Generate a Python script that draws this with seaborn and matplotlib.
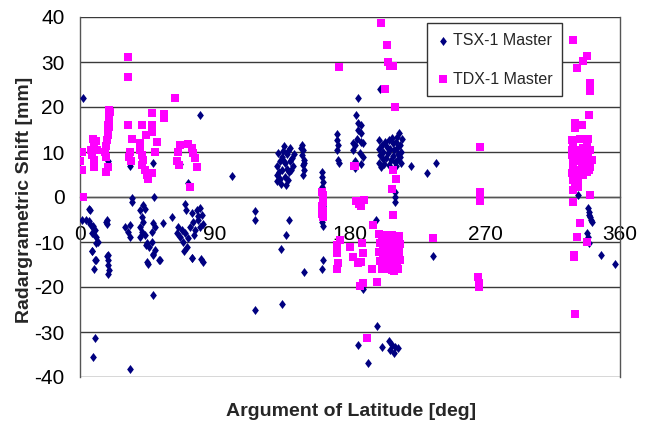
import matplotlib
matplotlib.use("Agg")
import matplotlib.pyplot as plt
import seaborn as sns
import pandas as pd

# ---------------- data ----------------
series_names = ["TSX-1 Master", "TDX-1 Master"]
x_ticks = [0, 90, 180, 270, 360]
y_ticks = [-40, -30, -20, -10, 0, 10, 20, 30, 40]

tsx_x = [
    2.2, 18.9, 6.0, 6.7, 1.0, 4.0, 5.8, 6.5, 8.8, 8.9, 10.0, 8.9, 7.8, 10.4, 10.9, 12.2, 7.8, 8.2, 9.8, 10.4, 9.6,
    17.8, 17.8, 17.6, 18.4, 18.2, 18.9, 18.4, 19.3, 18.4, 10.0, 8.4,
    33.3, 34.9, 34.9, 30.0, 32.2, 33.3, 33.0, 40.0, 41.1, 42.2, 40.0, 41.1, 40.0, 42.2, 43.3, 43.3, 44.4, 44.0,
    46.0, 48.2, 50.0, 48.9, 44.4, 45.6, 53.3, 48.9, 52.9, 48.4, 33.3, 48.9, 49.3, 48.5, 50.0, 48.0,
    55.6, 61.6, 64.4, 66.7, 72.2, 70.0, 80.0, 70.9, 74.4, 77.8, 80.0, 81.1, 78.9, 75.6, 73.3, 76.7, 80.0, 82.2,
    65.5, 67.8, 70.0, 66.7, 68.9, 72.2, 71.1, 69.3, 74.4, 82.2, 80.9, 74.8, 78.5, 76.0,
    101.1, 116.7, 116.7, 116.7, 133.8, 134.4, 137.3, 139.6, 149.3,
    136.2, 140.0, 132.2, 134.4, 137.8, 141.1, 133.3, 136.7, 140.0, 131.1, 134.4, 137.8, 142.2, 131.1, 133.3,
    136.7, 133.9, 137.3, 139.0, 135.5, 138.5, 132.5, 140.5, 142.8, 135.0, 138.9, 131.5,
    148.2, 148.5, 148.0, 149.0, 148.5, 149.2, 148.8, 147.5, 149.5,
    161.6, 161.3, 161.8, 161.6, 161.4, 161.9, 161.6, 161.7, 161.5, 161.8, 161.6, 162.0, 161.8, 161.6,
    171.2, 171.4, 171.9, 171.3, 172.2, 172.6,
    183.9, 185.5, 187.1, 185.5, 187.1, 184.4, 187.1, 188.9, 183.3, 182.2, 186.7, 188.4, 183.3, 187.1, 183.3, 182.2,
    199.1, 201.3, 199.6, 202.2, 200.0, 201.8, 199.3, 200.7, 204.4, 205.5, 204.0, 206.7, 207.3, 206.0, 208.9,
    209.4, 208.4, 209.8, 210.7, 211.3, 211.8, 212.0, 210.5, 213.3, 213.8, 213.1, 214.4, 212.9, 203.3, 205.8,
    207.9, 202.8, 211.1, 214.0,
    185.6, 200.0, 220.4, 231.1, 237.3, 210.0, 210.0, 210.0, 197.3, 235.1, 188.4, 198.2, 185.6, 201.1, 206.0,
    208.0, 210.0, 206.5, 209.0, 212.0, 192.2,
    332.2, 339.6, 340.0, 340.4, 341.0, 339.0, 338.2, 338.5, 339.0, 347.1, 356.7, 338.9,
]
tsx_y = [
    21.9, 7.9, -2.7, -2.9, -5.1, -5.1, -5.3, -5.9, -6.4, -6.9, -7.3, -8.0, -8.1, -8.8, -10.2, -10.1, -12.1, -11.9, -13.9, -14.1, -15.9,
    -5.0, -5.9, -5.6, -12.9, -13.2, -14.0, -15.1, -16.2, -17.0, -31.3, -35.5,
    6.9, -0.3, -1.0, -6.7, -7.7, -8.8, -6.2, -2.9, -4.4, -5.5, -6.6, -7.7, -8.8, -1.8, -2.7, -8.4, -10.3, -10.7,
    -11.0, -9.9, -11.8, -12.9, -14.4, -14.8, -13.9, -12.7, -13.9, -21.8, -38.3, 7.6, 0.1, -5.7, -6.7, -7.8,
    -5.7, -4.4, -7.9, 7.3, 3.2, -1.6, 18.2, -2.9, -3.6, -2.9, -2.5, -4.0, -5.1, -5.5, -6.6, -7.3, -6.6, -5.9,
    -6.6, -7.3, -8.1, -8.8, -9.9, -9.2, -11.1, -11.9, -13.6, -14.4, -13.8, -13.6, -4.3, -8.5,
    4.7, -3.0, -5.1, -25.1, -11.6, -23.8, -8.4, -5.0, -16.6,
    11.3, 11.0, 9.7, 9.0, 9.5, 8.7, 7.9, 7.5, 7.9, 6.8, 6.0, 6.3, 6.8, 4.9, 4.1,
    4.5, 3.0, 2.6, 5.5, 8.3, 10.2, 5.5, 6.1, 9.6, 10.3, 3.8, 3.5,
    11.6, 10.4, 9.3, 8.2, 7.1, 6.0, 4.9, 10.9, 7.6,
    5.6, 4.5, 3.4, 2.3, 1.2, 0.1, -1.0, -2.1, -3.3, -4.4, -5.5, -6.4, -13.9, -16.1,
    14.1, 12.7, 11.6, 10.4, 8.2, 7.5,
    18.2, 16.4, 16.0, 14.9, 14.3, 13.0, 12.3, 11.9, 11.6, 10.4, 9.7, 9.0, 7.9, 7.3, 6.4, 12.1,
    12.6, 11.6, 10.6, 10.0, 9.3, 8.5, 7.6, 6.7, 11.2, 9.8, 8.6, 10.6, 8.2, 7.2, 11.9,
    10.4, 9.1, 7.8, 12.3, 10.9, 9.6, 8.4, 7.0, 11.5, 10.0, 8.8, 12.8, 14.3, 12.3, 12.7,
    13.1, 7.3, 13.3, 7.6,
    22.1, 24.0, 6.9, 5.4, 7.5, 1.2, 0.1, -1.0, -5.1, -13.1, -20.5, -28.7, -32.9, -33.3, -32.1,
    -32.9, -33.3, -33.9, -34.6, -33.6, -36.8,
    0.4, -3.3, -4.4, -5.1, -5.5, -3.9, -8.1, -8.8, -10.3, -12.9, -14.9, -2.5,
]

tdx_x = [
    0.0, 1.1, 1.1, 2.2, 7.3, 7.8, 8.9, 9.1, 9.6, 9.6, 9.6, 10.5, 11.0, 17.0, 16.7, 17.1, 18.4, 17.1,
    19.5, 19.5, 19.1, 18.7, 18.4, 18.4, 18.0, 19.0, 20.0,
    32.2, 32.2, 32.2, 34.4, 33.0, 32.4, 34.0, 41.0, 47.8, 47.8, 47.8, 43.8, 40.0, 40.0, 41.1, 42.2, 41.1,
    43.3, 44.4, 45.6, 48.2, 50.0, 51.0, 56.2, 56.2,
    63.3, 66.7, 72.2, 74.4, 75.6, 76.7, 77.8, 65.5, 64.4, 66.2, 73.3,
    161.5, 161.8, 162.0, 161.5, 162.2, 161.6, 162.0, 171.0, 171.0, 172.0, 171.0, 172.9, 173.3,
    200.4, 204.9, 205.0, 206.5, 208.5, 203.3, 210.0, 208.9, 210.6, 207.8, 208.9, 182.6, 183.3, 184.0, 189.0,
    187.5, 186.0, 195.5, 180.0, 181.8, 188.0, 188.5, 187.0, 185.5, 194.4, 197.7, 188.9, 186.7, 191.1, 235.1,
    199.3, 201.5, 203.7, 206.0, 208.2, 210.4, 212.6, 199.8, 202.0, 204.2, 206.4, 208.6, 210.8, 213.0,
    199.5, 201.7, 203.9, 206.1, 208.3, 210.5, 212.7, 200.2, 202.4, 204.6, 206.8, 209.0, 211.2, 213.2,
    201.0, 205.0, 209.5, 212.0, 207.8,
    266.7, 266.7, 266.7, 266.7, 265.6, 266.2, 266.2,
    328.9, 338.2, 335.6, 331.6, 340.0, 340.0, 339.6, 330.0, 334.4, 330.0,
    327.8, 333.3, 338.9, 328.9, 331.1, 338.2, 340.0, 327.8, 332.2, 335.6, 341.1, 340.0, 328.9, 333.3, 337.8,
    327.8, 331.1, 335.6, 330.0, 332.2, 328.9, 328.4, 334.4, 330.0, 336.7, 328.2, 335.6, 338.9, 332.2, 328.9,
    340.0, 339.6,
    340.0, 328.4, 333.3, 331.1, 338.2, 329.3, 329.3, 330.0,
]
tdx_y = [
    7.9, 10.1, 6.0, 0.1, 10.4, 9.3, 13.0, 11.9, 11.2, 8.2, 6.7, 12.4, 10.5, 11.4, 10.1, 9.0, 6.7, 5.6,
    19.3, 18.2, 17.1, 16.0, 14.9, 13.8, 12.7, 15.5, 19.0,
    31.2, 26.7, 16.0, 13.0, 10.1, 9.0, 7.9, 16.0, 18.6, 16.0, 14.5, 13.8, 11.9, 10.4, 9.3, 8.2, 7.1,
    6.0, 4.9, 4.1, 5.3, 10.1, 12.3, 18.4, 17.5,
    22.1, 11.6, 11.8, 10.8, 9.7, 8.6, 6.6, 10.1, 7.9, 7.1, 2.3,
    1.2, 0.5, -1.0, -2.0, -3.0, -3.8, -4.5, -10.7, -12.4, -14.7, -15.9, 29.0, -9.6,
    38.7, 33.8, 30.1, 29.1, 29.1, 23.9, 19.9, 6.0, 3.9, 1.7, -4.0, 6.9, 6.9, -0.8, -0.7,
    -2.1, -1.5, -6.2, -11.2, -13.3, -10.3, -12.5, -14.4, -14.7, -15.9, -18.8, -19.2, -19.8, -31.4, -9.2,
    -8.3, -9.0, -8.5, -8.9, -8.4, -9.2, -8.7, -10.2, -10.9, -10.4, -11.1, -10.6, -11.3, -10.4,
    -12.2, -12.9, -12.4, -13.1, -12.6, -13.3, -12.2, -14.2, -14.9, -14.4, -15.1, -14.6, -15.3, -14.1,
    -16.0, -16.1, -16.4, -16.0, -16.2,
    11.2, 1.2, 0.1, -0.8, -17.7, -19.2, -20.1,
    35.0, 31.3, 30.3, 28.6, 25.3, 23.6, 18.2, 16.4, 16.0, 15.3,
    12.7, 13.0, 12.8, 11.6, 10.4, 11.8, 10.4, 9.3, 9.0, 9.3, 8.2, 6.7, 6.7, 6.0, 5.6,
    5.3, 4.5, 4.9, 3.0, 2.3, 1.6, 8.2, 7.5, 7.9, 6.7, 10.4, 10.8, 9.0, 4.1, 3.8,
    8.2, 6.0,
    0.4, -1.0, -5.7, -8.8, -9.9, -12.9, -13.4, -25.9,
]

tsx = pd.DataFrame({"x": tsx_x, "y": tsx_y})
tdx = pd.DataFrame({"x": tdx_x, "y": tdx_y})

# ---------------- figure ----------------
sns.set_style("white")
plt.rcParams["font.family"] = ["Liberation Sans", "DejaVu Sans"]

fig = plt.figure(figsize=(6.47, 4.25), dpi=100)
ax = fig.add_axes([80 / 647, 48 / 425, 540 / 647, 360 / 425])

diamond = [(0, 1), (0.75, 0), (0, -1), (-0.75, 0)]
sns.scatterplot(data=tsx, x="x", y="y", ax=ax, marker=diamond, s=42,
                color="#000080", linewidth=0, label=series_names[0], zorder=3)
sns.scatterplot(data=tdx, x="x", y="y", ax=ax, marker="s", s=27,
                color="#FF00FF", linewidth=0, label=series_names[1], zorder=4)

ax.set_xlim(0, 360)
ax.set_ylim(-40, 40)
ax.set_xticks(x_ticks)
ax.set_yticks(y_ticks)
ax.set_xticklabels([str(v) for v in x_ticks])
ax.set_yticklabels([str(v) for v in y_ticks])

# horizontal gridlines
ax.grid(False)
for v in y_ticks:
    ax.axhline(v, color="#3a3a3a", lw=1.0, zorder=1)

# axes frame / crossing axis at zero
ax.spines["bottom"].set_position(("data", 0))
for side in ["left", "right", "bottom", "top"]:
    ax.spines[side].set_color("#555555")
    ax.spines[side].set_linewidth(1.0)
ax.spines["top"].set_visible(False)

ax.tick_params(axis="x", direction="out", length=5, width=1, color="#333333",
               pad=15, labelsize=15, labelcolor="black")
ax.tick_params(axis="y", direction="out", length=5, width=1, color="#555555",
               pad=6, labelsize=15, labelcolor="black")

ax.set_xlabel("")
ax.set_ylabel("")
fig.text(351 / 647, 1 - 411 / 425, "Argument of Latitude [deg]", ha="center", va="center",
         fontsize=14, fontweight="bold")
fig.text(25 / 647, 1 - 200 / 425, "Radargrametric Shift [mm]", ha="center", va="center",
         rotation=90, fontsize=14, fontweight="bold")

leg = ax.legend(loc="upper left", bbox_to_anchor=(0.6426, 0.983), borderaxespad=0,
                frameon=True, fancybox=False, shadow=False, fontsize=11.5,
                handletextpad=0.2, handlelength=0.8, borderpad=0.6, labelspacing=1.5)
leg.get_frame().set_edgecolor("#333333")
leg.get_frame().set_linewidth(1.0)
leg.get_frame().set_facecolor("white")
leg.get_frame().set_alpha(1)
leg.set_zorder(10)

fig.savefig("out.png", dpi=100, facecolor="white")
